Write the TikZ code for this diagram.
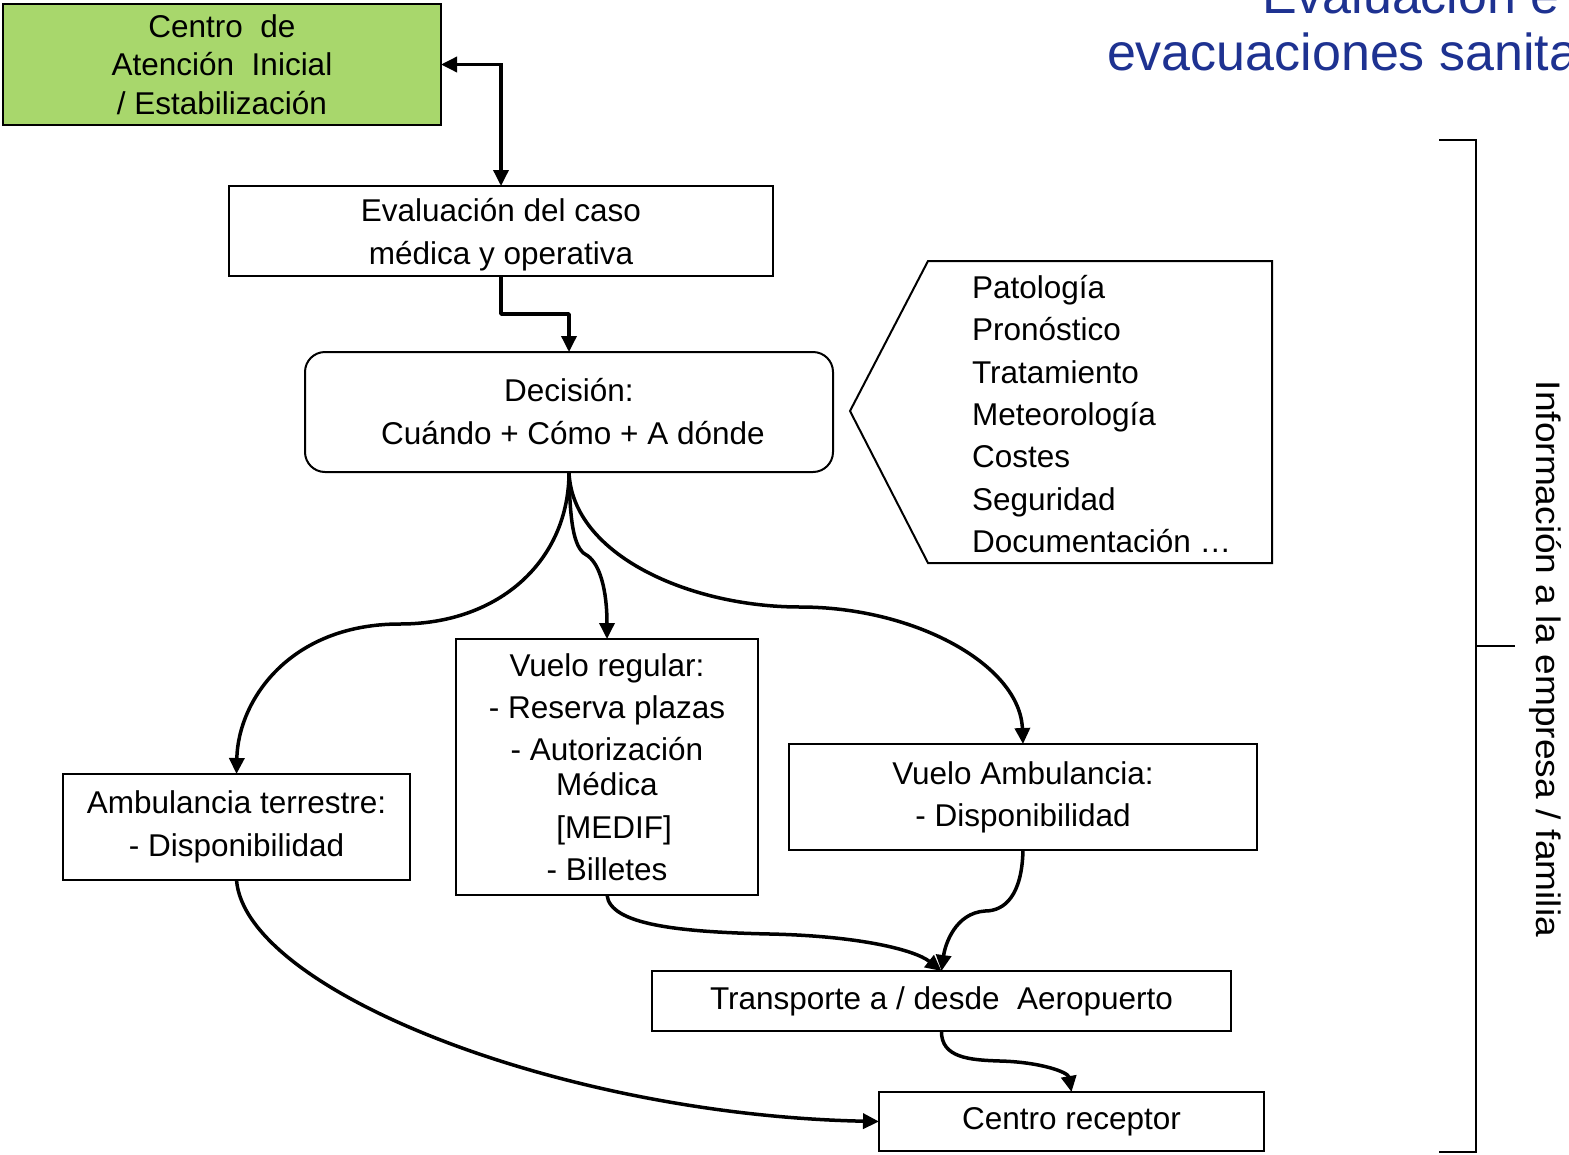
\documentclass[tikz,border=0pt]{standalone}
\usepackage{fontspec}
\usepackage{graphicx}
\setmainfont{Liberation Sans}
\usetikzlibrary{arrows.meta}
\definecolor{titleblue}{RGB}{30,50,145}
\definecolor{boxgreen}{RGB}{168,215,108}
\begin{document}
\begin{tikzpicture}[x=1pt,y=-1pt,
  every node/.style={font=\fontsize{31.5}{35}\selectfont, inner sep=0pt, outer sep=0pt},
  box/.style={draw=black, line width=2pt, align=center, rectangle},
  conn/.style={line width=3.5pt, line join=round, -{Triangle[length=16pt,width=15pt]}},
  dconn/.style={line width=3.5pt, {Triangle[length=16pt,width=15pt]}-{Triangle[length=16pt,width=15pt]}},
  thin/.style={line width=2pt, line join=miter}
 ]
\fill[white] (0,0) rectangle (1569,1154);
\useasboundingbox (0,0) rectangle (1569,1154);

% title (cut by the page edge)
\begin{scope}
\clip (0,0) rectangle (1569,1154);
\node[anchor=base west, text=titleblue, font=\fontsize{52}{60}\selectfont] (t1) at (1262,13) {Evaluación e};
\node[anchor=base west, text=titleblue, font=\fontsize{52}{60}\selectfont] (t2) at (1107,70) {evacuaciones sanita};
\end{scope}

% boxes
\node[box, fill=boxgreen, minimum width=438pt, minimum height=121pt] (gr) at (222,64.5)
  {Centro\ \ de\\[3.5pt]Atención\ \ Inicial\\[3.5pt]/ Estabilización};
\node[box, minimum width=544pt, minimum height=90pt] (ev) at (501,231)
  {\rule{0pt}{30pt}Evaluación del caso\\[8pt]médica y operativa};
\node[box, rounded corners=20pt, minimum width=528pt, minimum height=120pt] (dec) at (569,412)
  {Decisión:\\[8pt]\hspace*{8pt}Cuándo + Cómo + A dónde};
\node[box, minimum width=302pt, minimum height=256pt] (vr) at (607,767)
  {Vuelo regular:\\[7pt]- Reserva plazas\\[7pt]- Autorización\\Médica\\[8pt]\hspace*{14pt}[MEDIF]\\[7pt]- Billetes};
\node[box, minimum width=347pt, minimum height=106pt] (amb) at (236.5,827)
  {Ambulancia terrestre:\\[8pt]- Disponibilidad};
\node[box, minimum width=468pt, minimum height=106pt] (va) at (1023,797)
  {Vuelo Ambulancia:\\[7pt]- Disponibilidad};
\node[box, minimum width=579pt, minimum height=60pt] (tr) at (941.5,1001)
  {Transporte a / desde\ \ Aeropuerto};
\node[box, minimum width=385pt, minimum height=59pt] (cr) at (1071.5,1121.5)
  {Centro receptor};

% callout with factors
\draw[thin] (928,261) -- (1272,261) -- (1272,563) -- (928,563) -- (850,411) -- cycle;
\node[anchor=west, align=left] (info) at (972,414)
  {Patología\\[7.3pt]Pronóstico\\[7.3pt]Tratamiento\\[7.3pt]Meteorología\\[7.3pt]Costes\\[7.3pt]Seguridad\\[7.3pt]Documentación …};

% bracket and vertical text
\draw[thin] (1439,140) -- (1476,140) -- (1476,1152) -- (1439,1152);
\draw[thin] (1476,646) -- (1515,646);
\node[rotate=-90, font=\fontsize{34}{40}\selectfont] (fam) at (1545,659)
  {\scalebox{1.09}[1]{Información a la empresa / familia}};

% connectors
\draw[dconn] (gr.east) -| (ev.north);
\draw[conn] (ev.south) -- ++(0,38) -| (dec.north);
\draw[conn] (dec.south) .. controls (569,560) and (500,624) .. (400,624)
  .. controls (290,624) and (238,700) .. (amb.north);
\draw[conn] (dec.south) .. controls (570,530) and (575,550) .. (588,556)
  .. controls (600,565) and (607,590) .. (vr.north);
\draw[conn] (dec.south) .. controls (572,555) and (690,607) .. (800,607)
  .. controls (915,607) and (1020,665) .. (va.north);
\draw[conn] (vr.south) .. controls (610,925) and (680,932) .. (770,934)
  .. controls (860,936) and (915,950) .. (tr.north);
\draw[conn] (va.south) .. controls (1022,895) and (1005,911) .. (985,911)
  .. controls (955,913) and (945,945) .. (tr.north);
\draw[conn] (tr.south) .. controls (941,1058) and (970,1060) .. (1000,1061)
  .. controls (1040,1062) and (1068,1072) .. (cr.north);
\draw[conn] (amb.south) .. controls (245,990) and (560,1115) .. (cr.west);
\end{tikzpicture}
\end{document}
